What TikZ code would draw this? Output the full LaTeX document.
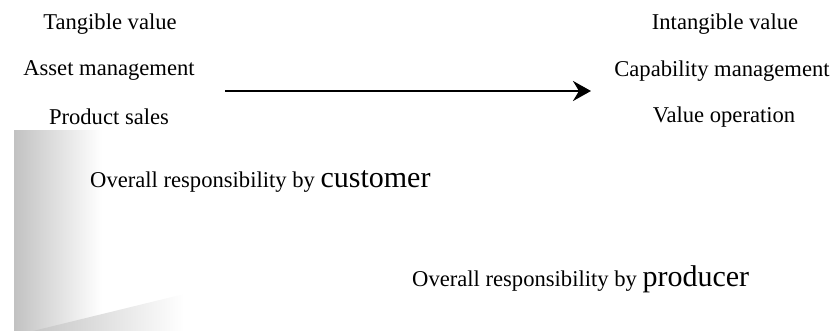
\documentclass[tikz,border=0pt]{standalone}
\usepackage{fontspec}
\setmainfont{Liberation Serif}
\usepackage{tikz}
\usetikzlibrary{arrows.meta, positioning}

\tikzset{
    lbl/.style={inner sep=0pt, font=\fontsize{22.6}{26}\selectfont},
    big/.style={font=\fontsize{30}{34}\selectfont}
}

\begin{document}
\begin{tikzpicture}[x=1pt, y=1pt]
    \useasboundingbox (0,0) rectangle (835,331);

    % Mặt phẳng tô bóng bên trái
    \shade[left color=gray!48, right color=white] (14,0) rectangle (102,200);
    \shade[left color=gray!45, right color=white] (33,0) -- (184,37) -- (184,0) -- cycle;

    % Nhãn bên trái
    \node[lbl] (tangible) at (110,307) {Tangible value};
    \node[lbl] (asset) at (109,261) {Asset management};
    \node[lbl] (product) at (109,214) {Product sales};

    % Nhãn bên phải
    \node[lbl] (intangible) at (725,307) {Intangible value};
    \node[lbl] (capability) at (722,260) {Capability management};
    \node[lbl] (operation) at (724,214) {Value operation};

    % Mũi tên
    \coordinate (arrowstart) at (225,240);
    \coordinate (arrowend) at (591,240);
    \draw[-{Stealth[length=18pt, width=20pt, inset=6pt]}, line width=2.6pt] (arrowstart) -- (arrowend);

    % Trách nhiệm
    \node[lbl, anchor=base west] (customer) at (90,143)
        {Overall responsibility by {\fontsize{30}{34}\selectfont customer}};
    \node[lbl, anchor=base west] (producer) at (412,44)
        {Overall responsibility by {\fontsize{30}{34}\selectfont producer}};
\end{tikzpicture}
\end{document}
